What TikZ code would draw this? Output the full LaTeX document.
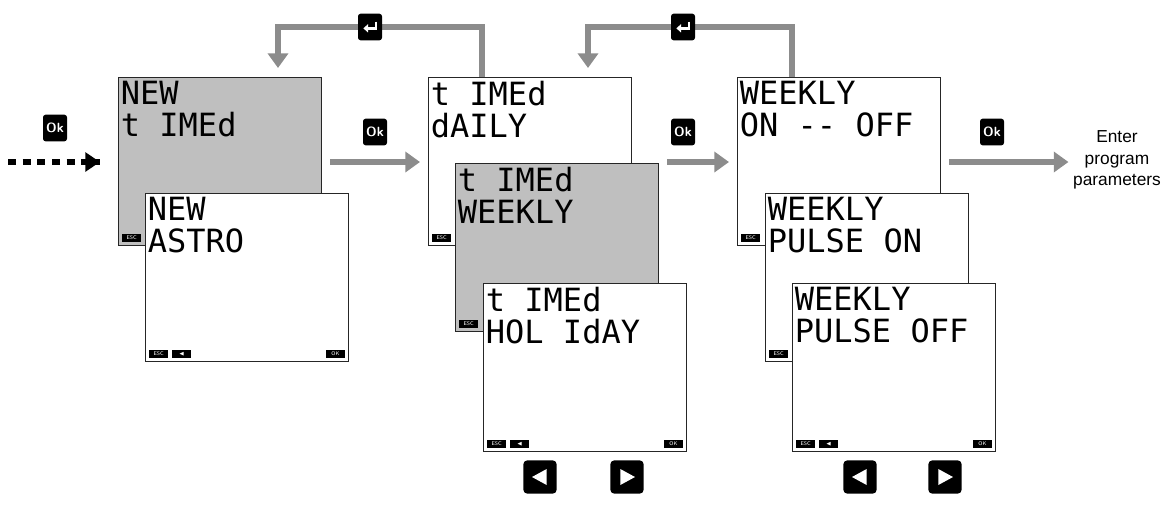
\documentclass[tikz,border=0pt]{standalone}
\usepackage{amssymb}
\usepackage{fontspec}
\setmainfont{Liberation Sans}
\newfontfamily\lcdfont{DejaVu Sans Mono}
\usetikzlibrary{arrows.meta,positioning}

\tikzstyle{pnl}=[draw=black!85,line width=1pt,minimum width=152pt,minimum height=126pt,inner sep=0pt]
\tikzstyle{lcd}=[anchor=north west,inner sep=0pt,align=left,font=\lcdfont\fontsize{24}{24}\selectfont]
\tikzstyle{sk}=[fill=black,minimum width=14pt,minimum height=6pt,inner sep=0pt,text=white,font=\sffamily\fontsize{4}{4}\selectfont]
\tikzstyle{key}=[fill=black,rounded corners=2pt,minimum width=18pt,minimum height=20pt,inner sep=0pt,text=white,font=\sffamily\bfseries]
\tikzstyle{nav}=[fill=black,rounded corners=3pt,minimum size=25pt,inner sep=0pt]
\tikzstyle{ga}=[draw=black!45,line width=4pt,-{Triangle[length=11pt,width=15pt]}]

% panel: name, x, y (top-left), fill, text
\newcommand{\lcdpanel}[5]{%
  \node[pnl,fill=#4,anchor=north west] (#1) at (#2,#3) {};
  \node[lcd] at ([shift={(2pt,-3pt)}]#1.north west) {#5};
  \node[sk,anchor=south west] (#1esc) at ([shift={(3pt,3pt)}]#1.south west) {ESC};
}
\newcommand{\lcdkeys}[1]{%
  \node[sk,right=3pt of #1esc] (#1lt) {$\blacktriangleleft$};
  \node[sk,anchor=south east] (#1ok) at ([shift={(-3pt,3pt)}]#1.south east) {OK};
}

\begin{document}
\begin{tikzpicture}[x=0.75pt,y=-0.75pt]
\useasboundingbox (0,0) rectangle (1171,504);
% first column
\lcdpanel{pa}{118}{77}{black!25}{NEW\\t IMEd}
\lcdpanel{pb}{145}{193}{white}{NEW\\ASTRO}
\lcdkeys{pb}
% second column
\lcdpanel{pc}{428}{77}{white}{t IMEd\\dAILY}
\lcdpanel{pd}{455}{163}{black!25}{t IMEd\\WEEKLY}
\lcdpanel{pe}{483}{283}{white}{t IMEd\\HOL IdAY}
\lcdkeys{pe}
% third column
\lcdpanel{pf}{737}{77}{white}{WEEKLY\\ON -- OFF}
\lcdpanel{pg}{765}{193}{white}{WEEKLY\\PULSE ON}
\lcdpanel{ph}{792}{283}{white}{WEEKLY\\PULSE OFF}
\lcdkeys{ph}

% ok keys and forward arrows
\node[key] (k0) at (55,128) {Ok};
\node[key] (k1) at (375,132) {Ok};
\node[key] (k2) at (683,132) {Ok};
\node[key] (k3) at (992,132) {Ok};
\coordinate (s0) at (8,162);
\coordinate (e0) at (100,162);
\draw[line width=4pt,dash pattern=on 6pt off 5pt] (s0) -- (e0);
\draw[-{Triangle[length=11pt,width=14pt]},line width=4pt] ([xshift=-8]e0) -- (e0);
\draw[ga] ([xshift=6]pa.east|-e0) -- ([xshift=-6]pc.west|-e0);
\draw[ga] ([xshift=6]pd.east|-e0) -- ([xshift=-6]pf.west|-e0);
\node[align=center,font=\fontsize{13}{16}\selectfont] (ent) at (1117,160) {Enter\\program\\parameters};
\draw[ga] ([xshift=6]pf.east|-e0) -- (ent.west|-e0);

% return loops
\draw[ga] (pc.north-|482,0) |- (370,27) -| (278,68);
\draw[ga] (pf.north-|792,0) |- (683,27) -| (588,68);
\node[key] (r1) at (370,27) {};
\node[key] (r2) at (683,27) {};
\foreach \r in {r1,r2}
  \draw[white,line width=1.8pt,-{Triangle[length=3.5pt,width=6pt]}] ([shift={(4.5pt,4pt)}]\r.center) -- ([shift={(4.5pt,-1pt)}]\r.center) -- ([shift={(-5pt,-1pt)}]\r.center);

% navigation keys
\foreach \n/\x in {n1/540,n3/860}
  {\node[nav] (\n) at (\x,477) {};
   \fill[white] ([xshift=-6pt]\n.center) -- ([shift={(5pt,6pt)}]\n.center) -- ([shift={(5pt,-6pt)}]\n.center) -- cycle;}
\foreach \n/\x in {n2/627,n4/945}
  {\node[nav] (\n) at (\x,477) {};
   \fill[white] ([xshift=6pt]\n.center) -- ([shift={(-5pt,6pt)}]\n.center) -- ([shift={(-5pt,-6pt)}]\n.center) -- cycle;}
\end{tikzpicture}
\end{document}
